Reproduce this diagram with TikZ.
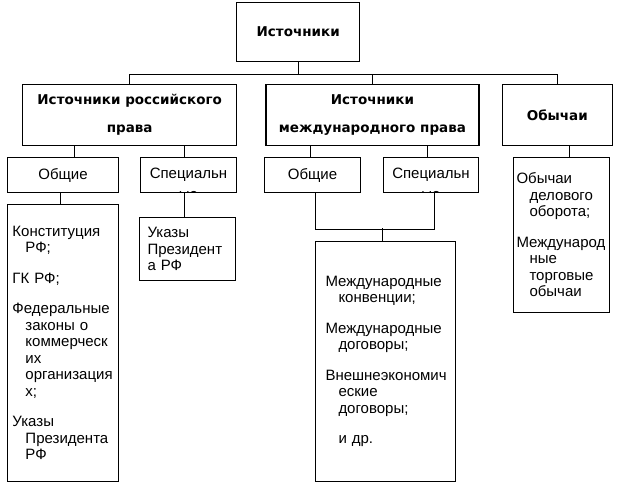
\documentclass[tikz,border=0pt]{standalone}
\usepackage{fontspec}
\setmainfont{Liberation Sans}
\newfontfamily\headfont{DejaVu Sans}
\usepackage{tikz}
\usetikzlibrary{positioning,calc}
\newcommand{\ind}{\hspace*{13pt}}
\newcommand{\gap}{14pt}

\begin{document}
\begin{tikzpicture}[
  x=1pt, y=-1pt, line width=1pt,
  font=\fontsize{15}{16.5}\selectfont,
  every node/.append style={inner sep=0pt},
  head/.style={draw, line width=1.3pt, align=center,
    font=\headfont\bfseries\fontsize{13.5}{28}\selectfont},
  sub/.style={draw, align=center, minimum width=96pt, minimum height=35pt},
  textbox/.style={draw, align=left, inner xsep=#1,
    execute at begin node={\setlength{\parindent}{0pt}}},
  cut/.style={path picture={\node[anchor=base]
    at ([yshift=-6.8pt]path picture bounding box.south) {ые};}},
]
\useasboundingbox (0,0) rectangle (626,496);

% top level
\node[head, anchor=north west, minimum width=123pt, minimum height=59pt] (top) at (236,2) {Источники};
\node[head, anchor=north west, minimum width=214pt, minimum height=61pt] (rus) at (22,84) {Источники российского\\права};
\node[head, minimum width=213pt, minimum height=61pt, right=28pt of rus] (intl) {Источники\\международного права};
\node[head, minimum width=110pt, minimum height=61pt, right=22pt of intl] (cust) {Обычаи};

% second level
\node[sub, anchor=north west, minimum width=111pt] (gen1) at (7,157) {Общие};
\node[sub, cut, right=21pt of gen1] (spec1) {Специальн};
\node[sub, anchor=north west] (gen2) at (264,157) {Общие};
\node[sub, cut, minimum width=95pt, right=22pt of gen2] (spec2) {Специальн};

% lists
\node[textbox=5pt, anchor=north west, text width=101pt, minimum height=277pt] (acts1) at (7,204)
  {Конституция\\\ind РФ;\\[\gap]ГК РФ;\\[\gap]Федеральные\\\ind законы о\\\ind коммерческ\\\ind их\\\ind организация\\\ind х;\\[\gap]Указы\\\ind Президента\\\ind РФ};
\node[textbox=8pt, anchor=north west, text width=80pt, minimum height=63pt] (decree) at (139,217)
  {Указы\\Президент\\а РФ};
\node[textbox=10pt, anchor=north west, text width=120pt, minimum height=240pt] (acts2) at (315,241)
  {Международные\\\ind конвенции;\\[\gap]Международные\\\ind договоры;\\[\gap]Внешнеэкономич\\\ind еские\\\ind договоры;\\[\gap]\ind и др.};
\node[textbox=3pt, anchor=north west, text width=90pt, minimum height=155pt] (acts3) at (513,157)
  {Обычаи\\\ind делового\\\ind оборота;\\[\gap]Международ\\\ind ные\\\ind торговые\\\ind обычаи};

% connectors
\coordinate (hub) at ($(top.south)+(0,12)$);
\draw (top) -- (hub);
\draw (rus) |- (hub) -| (cust);
\draw (intl) -- (intl |- hub);
\draw ([xshift=-55pt]rus.south) -- ++(0,12);
\draw ([xshift=55pt]rus.south) -- ++(0,12);
\draw ([xshift=-62pt]intl.south) -- ++(0,12);
\draw ([xshift=55pt]intl.south) -- ++(0,12);
\draw ([xshift=12pt]cust.south) -- ++(0,12);
\draw ([xshift=-3pt]gen1.south) -- ++(0,12);
\draw ([xshift=-4pt]spec1.south) -- ++(0,25);
\draw ([xshift=3pt]gen2.south) -- ++(0,36) -| ([xshift=3pt]spec2.south);
\draw ([xshift=-3pt]acts2.north) -- ++(0,-13);
\end{tikzpicture}
\end{document}
